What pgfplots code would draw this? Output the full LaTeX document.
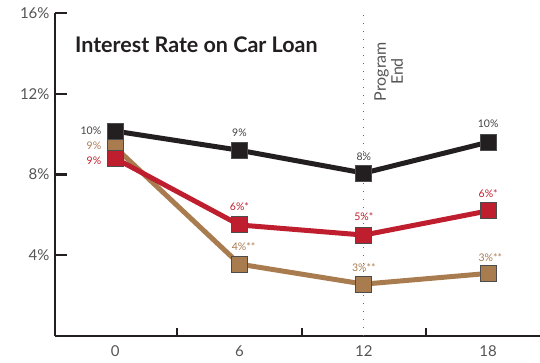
\documentclass[border=0pt]{standalone}
\usepackage{fontspec}
\setmainfont{Lato}
\usepackage{pgfplots}
\pgfplotsset{compat=1.18}
\definecolor{cblack}{HTML}{231F20}
\definecolor{cred}{HTML}{BE1E2D}
\definecolor{ctan}{HTML}{A97C50}
\definecolor{ctext}{HTML}{555555}
\begin{document}
\begin{tikzpicture}
\begin{axis}[
  scale only axis,
  width=485pt, height=323pt,
  xmin=-2.9, xmax=20.5, ymin=0, ymax=16,
  axis x line=bottom, axis y line=left,
  axis line style={line width=2.2pt, color=cblack, -},
  xtick={0,6,12,18},
  minor xtick={3,9,15},
  major tick length=12pt,
  minor tick length=8pt,
  ytick={4,8,12,16},
  ytick style={line width=2.2pt, color=cblack},
  xtick style={draw=none},
  minor x tick style={draw=cblack, line width=2.2pt},
  tick align=inside,
  yticklabel={\pgfmathprintnumber{\tick}\%},
  /pgf/number format/assume math mode=true,
  tick label style={font=\fontsize{15}{18}\selectfont, text=ctext},
  xticklabel style={yshift=-6pt},
  yticklabel style={xshift=-2pt},
  clip=false,
]
\addplot[line width=1.3pt, color=black!60, dash pattern=on 1.2pt off 6.8pt] coordinates {(12,0) (12,16)};
\addplot[ctan, line width=5pt, mark=square*, mark size=8pt, mark options={fill=ctan, draw=black!70, line width=1pt}]
  coordinates {(0,9.35) (6,3.56) (12,2.57) (18,3.1)};
\addplot[cblack, line width=5pt, mark=square*, mark size=8pt, mark options={fill=cblack, draw=black!70, line width=1pt}]
  coordinates {(0,10.15) (6,9.2) (12,8.07) (18,9.6)};
\addplot[cred, line width=5pt, mark=square*, mark size=8pt, mark options={fill=cred, draw=black!70, line width=1pt}]
  coordinates {(0,8.8) (6,5.5) (12,5.0) (18,6.2)};
\node[anchor=west, font=\fontsize{21.5}{24}\bfseries\selectfont, text=cblack] at (axis cs:-2.1,14.45) {Interest Rate on Car Loan};
\node[rotate=90, align=center, font=\fontsize{16}{17}\selectfont, text=ctext] at (axis cs:13.2,13.1) {Program\\End};
\begin{scope}[every node/.style={font=\fontsize{10.5}{12}\selectfont}]
\node[anchor=east, text=cblack!85] at (axis cs:-0.5,10.15) {10\%};
\node[anchor=east, text=ctan] at (axis cs:-0.5,9.4) {9\%};
\node[anchor=east, text=cred] at (axis cs:-0.5,8.7) {9\%};
\node[text=cblack!85] at (axis cs:6,10.05) {9\%};
\node[text=cblack!85] at (axis cs:12,8.9) {8\%};
\node[text=cblack!85] at (axis cs:18,10.5) {10\%};
\node[text=cred] at (axis cs:6,6.4) {6\%*};
\node[text=cred] at (axis cs:12,5.9) {5\%*};
\node[text=cred] at (axis cs:18,7.03) {6\%*};
\node[text=ctan] at (axis cs:6.2,4.43) {4\%**};
\node[text=ctan] at (axis cs:12,3.4) {3\%**};
\node[text=ctan] at (axis cs:18.1,3.9) {3\%**};
\end{scope}
\end{axis}
\pgfresetboundingbox
\path[use as bounding box] (-55pt,-26pt) rectangle (485pt,336pt);
\end{tikzpicture}
\end{document}
